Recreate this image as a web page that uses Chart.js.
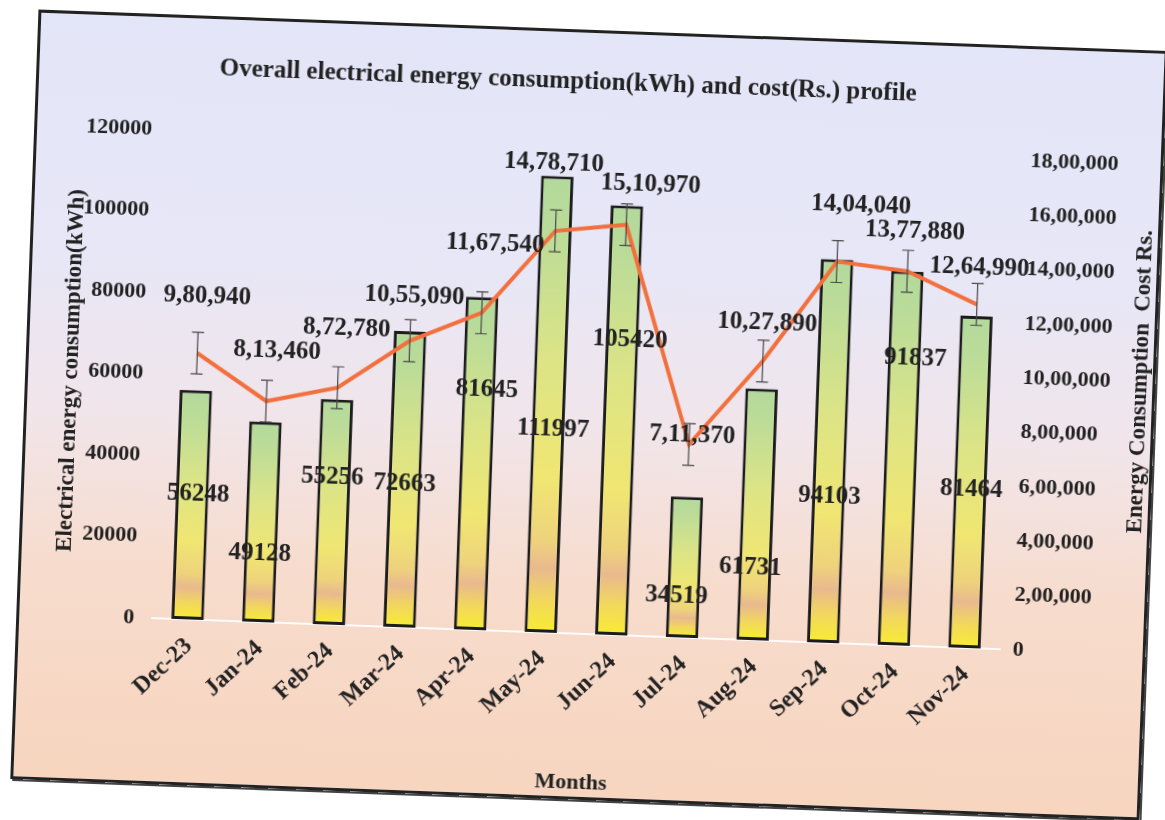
<!DOCTYPE html>
<html>
<head>
<meta charset="utf-8">
<script src="https://cdn.jsdelivr.net/npm/chart.js@4.4.1/dist/chart.umd.min.js"></script>
<style>
  html, body { margin: 0; padding: 0; background: #fff; width: 1165px; height: 820px; overflow: hidden; }
  #frame {
    position: absolute; left: 24px; top: 30px; width: 1124px; height: 764px;
    border: 3px solid #222;
    box-shadow: 2px 2px 0 #444;
    transform: rotate(2.1deg);
    background: linear-gradient(to bottom, #e3e5f8 0%, #e7e7f7 30%, #f1e5ea 52%, #f7dccd 72%, #f7d5bf 100%);
  }
  canvas { display: block; }
</style>
</head>
<body>
<div id="frame"><canvas id="energyChart" width="1124" height="764"></canvas></div>
<script>
// datos del gráfico
const months = ['Dec-23', 'Jan-24', 'Feb-24', 'Mar-24', 'Apr-24', 'May-24', 'Jun-24', 'Jul-24', 'Aug-24', 'Sep-24', 'Oct-24', 'Nov-24'];
const energyKwh = [56248, 49128, 55256, 72663, 81645, 111997, 105420, 34519, 61731, 94103, 91837, 81464];
const costRs = [980940, 813460, 872780, 1055090, 1167540, 1478710, 1510970, 711370, 1027890, 1404040, 1377880, 1264990];
const costError = [77000, 77000, 77000, 77000, 77000, 77000, 77000, 77000, 77000, 77000, 77000, 77000];
const kwhTicks = [0, 20000, 40000, 60000, 80000, 100000, 120000];
const costTicks = [0, 200000, 400000, 600000, 800000, 1000000, 1200000, 1400000, 1600000, 1800000];

const TITLE = 'Overall electrical energy consumption(kWh) and cost(Rs.) profile';
const FONT = '"Liberation Serif", "Times New Roman", serif';
const TEXT = '#222';

// desplazamiento de las etiquetas (px), como en el original
const costLabelNudge = [[8, -57], [9, -50], [7, -59], [3, -45], [11, -69], [-4, -68], [23, -41], [3, -9], [3, -38], [22, -57], [6, -40], [1, -37]];
const barLabelNudge = [[6, -11], [-1, 32], [-2, -35], [0, 5], [8, -74], [5, 25], [8, -81], [-7, 29], [-5, 53], [1, 45], [11, -100], [1, 8]];

// formato indio: 18,00,000
function inr(n) {
    const s = String(Math.round(n));
    if (s.length <= 3) return s;
    const last3 = s.slice(-3);
    let rest = s.slice(0, -3);
    const parts = [];
    while (rest.length > 2) {
        parts.unshift(rest.slice(-2));
        rest = rest.slice(0, -2);
    }
    if (rest) parts.unshift(rest);
    return parts.join(',') + ',' + last3;
}

// degradado de cada barra (verde arriba, amarillo abajo)
function barFill(ctx) {
    const chart = ctx.chart;
    if (!chart.chartArea || ctx.type !== 'data') return '#d8e48a';
    const y = chart.scales.y;
    const top = y.getPixelForValue(ctx.raw);
    const bottom = y.getPixelForValue(0);
    const g = chart.ctx.createLinearGradient(0, top, 0, bottom);
    g.addColorStop(0, '#b2d99c');
    g.addColorStop(0.12, '#bbdc98');
    g.addColorStop(0.4, '#dce486');
    g.addColorStop(0.66, '#f0e672');
    g.addColorStop(0.8, '#eed27c');
    g.addColorStop(0.86, '#e9b98e');
    g.addColorStop(0.93, '#f2d85c');
    g.addColorStop(1, '#f8ec32');
    return g;
}

// título, barras de error, etiquetas y título del eje derecho
const overlayPlugin = {
    id: 'overlay',
    afterDatasetsDraw(chart) {
        const ctx = chart.ctx;
        const area = chart.chartArea;
        const x = chart.scales.x, y = chart.scales.y, y1 = chart.scales.y1;
        ctx.save();

        ctx.strokeStyle = '#4a4a4a';
        ctx.lineWidth = 1.2;
        costRs.forEach((v, i) => {
            const px = x.getPixelForValue(i);
            const hi = y1.getPixelForValue(v + costError[i]);
            const lo = y1.getPixelForValue(v - costError[i]);
            ctx.beginPath();
            ctx.moveTo(px, hi); ctx.lineTo(px, lo);
            ctx.moveTo(px - 6, hi); ctx.lineTo(px + 6, hi);
            ctx.moveTo(px - 6, lo); ctx.lineTo(px + 6, lo);
            ctx.stroke();
        });

        ctx.fillStyle = TEXT;
        ctx.textAlign = 'center';
        ctx.textBaseline = 'middle';
        ctx.font = 'bold 25px ' + FONT;
        energyKwh.forEach((v, i) => {
            const px = x.getPixelForValue(i) + barLabelNudge[i][0];
            const py = (y.getPixelForValue(v) + y.getPixelForValue(0)) / 2 + barLabelNudge[i][1];
            ctx.fillText(String(v), px, py);
        });

        costRs.forEach((v, i) => {
            const px = x.getPixelForValue(i) + costLabelNudge[i][0];
            const py = y1.getPixelForValue(v) + costLabelNudge[i][1];
            ctx.fillText(inr(v), px, py);
        });

        ctx.font = 'bold 25px ' + FONT;
        ctx.fillText(TITLE, (area.left + area.right) / 2 - 28, 50);

        ctx.font = 'bold 23px ' + FONT;
        ctx.translate(y1.right - 12, (area.top + area.bottom) / 2 - 28);
        ctx.rotate(-Math.PI / 2);
        ctx.fillText('Energy Consumption  Cost Rs.', 0, 0);
        ctx.restore();
    }
};

const ctx = document.getElementById('energyChart').getContext('2d');
const chart = new Chart(ctx, {
    data: {
        labels: months,
        datasets: [{
            type: 'line',
            label: 'Cost (Rs.)',
            data: costRs,
            yAxisID: 'y1',
            borderColor: '#f2703e',
            borderWidth: 4,
            pointRadius: 0,
            tension: 0,
            order: 0
        }, {
            type: 'bar',
            label: 'Energy (kWh)',
            data: energyKwh,
            yAxisID: 'y',
            backgroundColor: barFill,
            borderColor: '#1c1c1c',
            borderWidth: 3,
            borderSkipped: false,
            barPercentage: 0.46,
            categoryPercentage: 1,
            order: 1
        }]
    },
    options: {
        responsive: false,
        animation: false,
        devicePixelRatio: 1,
        layout: { padding: { left: 12, right: 0, top: 112, bottom: 0 } },
        plugins: {
            legend: { display: false },
            tooltip: { enabled: false },
            title: { display: false }
        },
        scales: {
            x: {
                grid: { display: false, drawTicks: false },
                border: { display: true, color: 'rgba(255,255,255,0.9)', width: 2 },
                ticks: {
                    color: TEXT, autoSkip: false, minRotation: 45, maxRotation: 45, padding: 13, labelOffset: 2,
                    font: { family: FONT, size: 24, weight: 'bold' }
                },
                title: {
                    display: true, text: 'Months', color: TEXT,
                    font: { family: FONT, size: 22, weight: 'bold' },
                    padding: { top: 0, bottom: 0 }
                },
                afterFit: s => { s.height = 163; }
            },
            y: {
                position: 'left',
                min: 0, max: 120000,
                afterBuildTicks: s => { s.ticks = kwhTicks.map(v => ({ value: v })); },
                grid: { display: false, drawTicks: false },
                border: { display: false },
                ticks: {
                    color: TEXT, padding: 18, font: { family: FONT, size: 22, weight: 'bold' },
                    callback: v => String(v)
                },
                title: {
                    display: true, text: 'Electrical energy consumption(kWh)', color: TEXT,
                    font: { family: FONT, size: 23, weight: 'bold' },
                    padding: { top: 17, bottom: 0 }
                },
                afterFit: s => { s.width = 121; }
            },
            y1: {
                position: 'right',
                min: 0, max: 1800000,
                afterBuildTicks: s => { s.ticks = costTicks.map(v => ({ value: v })); },
                grid: { display: false, drawTicks: false },
                border: { display: false },
                ticks: {
                    color: TEXT, padding: 13, font: { family: FONT, size: 22, weight: 'bold' },
                    callback: v => inr(v)
                },
                afterFit: s => { s.width = 143; }
            }
        }
    },
    plugins: [overlayPlugin]
});
</script>
</body>
</html>
